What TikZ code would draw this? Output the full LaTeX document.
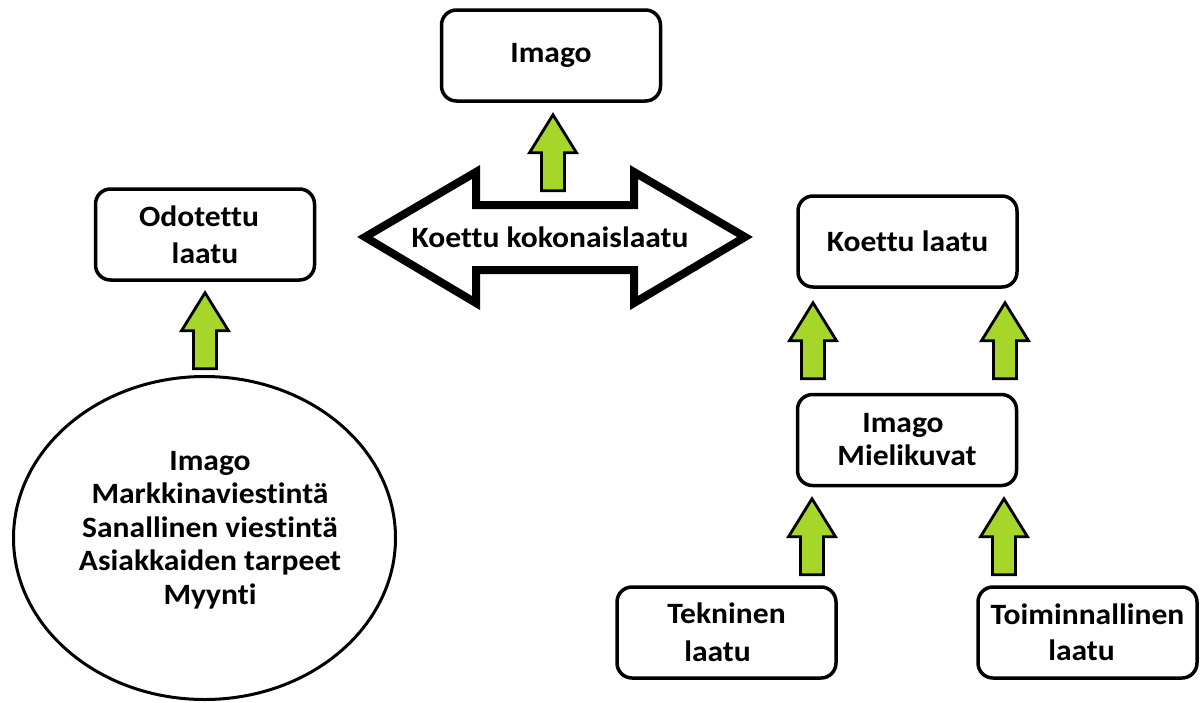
\documentclass[tikz,border=0pt]{standalone}
\usepackage{fontspec}
\setmainfont{Carlito}[FakeStretch=1.07, Ligatures=NoCommon]
\usetikzlibrary{calc,shapes.geometric}
\definecolor{limeg}{RGB}{166,214,42}
\tikzset{
  lbl/.style={font=\bfseries\fontsize{29.5}{36}\selectfont, align=center, inner sep=0pt},
  box/.style={lbl, draw=black, line width=3.5pt, rounded corners=15pt, fill=white,
    minimum width=219pt, minimum height=91pt},
  blockarrow/.style={draw=black, fill=limeg, line width=2.8pt, line join=miter},
  bigarrow/.style={draw=black, fill=white, line width=8pt, line join=miter},
  oval/.style={draw=black, ellipse, line width=3pt, fill=white, inner sep=0pt}
}
\newcommand\greenup[1]{\draw[blockarrow] (#1) -- ++(23.5,38) -- ++(-12,0) -- ++(0,38) -- ++(-23,0) -- ++(0,-38) -- ++(-12,0) -- cycle;}
\begin{document}
\begin{tikzpicture}[x=1pt,y=-1pt]
\useasboundingbox[fill=white] (0,0) rectangle (1202,702);

% boxes
\node[box] (imagoT) at (551,55.5) {Imago};
\node[box] (odot) at (205,234.5) {Odotettu\hspace*{12pt}\\[1pt]laatu};
\node[box] (koettu) at (907.5,241.5) {Koettu laatu};
\node[box, font=\bfseries\fontsize{29.5}{33}\selectfont] (imagoM) at (907,440) {Imago\hspace*{8pt}\\Mielikuvat};
\node[box] (tekn) at (726.5,632.5) {Tekninen\\[2pt]laatu\hspace*{18pt}};
\node[box] (toim) at (1087.5,632.5) {Toiminnallinen\\laatu\hspace*{12pt}};

% ellipse
\node[oval, minimum width=382pt, minimum height=323pt] (src) at (204.5,538) {};
\node[lbl, font=\bfseries\fontsize{29.5}{33.5}\selectfont] (srctext) at (210,530)
  {Imago\\Markkinaviestintä\\Sanallinen viestintä\\Asiakkaiden tarpeet\\Myynti};

% double arrow
\coordinate (kkc) at (555,237);
\draw[bigarrow, shift={(kkc)}] (-190,0) -- (-79,-65) -- (-79,-32) -- (79,-32) -- (79,-65)
  -- (190,0) -- (79,66) -- (79,33) -- (-79,33) -- (-79,66) -- cycle;
\node[lbl] (kk) at (550,237) {Koettu kokonaislaatu};

% green arrows
\coordinate (t1) at ($(imagoT.south)+(2,12)$);
\coordinate (t2) at ($(odot.south)+(0,11)$);
\coordinate (t3) at ($(koettu.south)+(-94.5,14)$);
\coordinate (t4) at ($(koettu.south)+(97.5,14)$);
\coordinate (t5) at ($(imagoM.south)+(-95,11.5)$);
\coordinate (t6) at ($(imagoM.south)+(97,11.5)$);
\greenup{t1}
\greenup{t2}
\greenup{t3}
\greenup{t4}
\greenup{t5}
\greenup{t6}
\end{tikzpicture}
\end{document}
